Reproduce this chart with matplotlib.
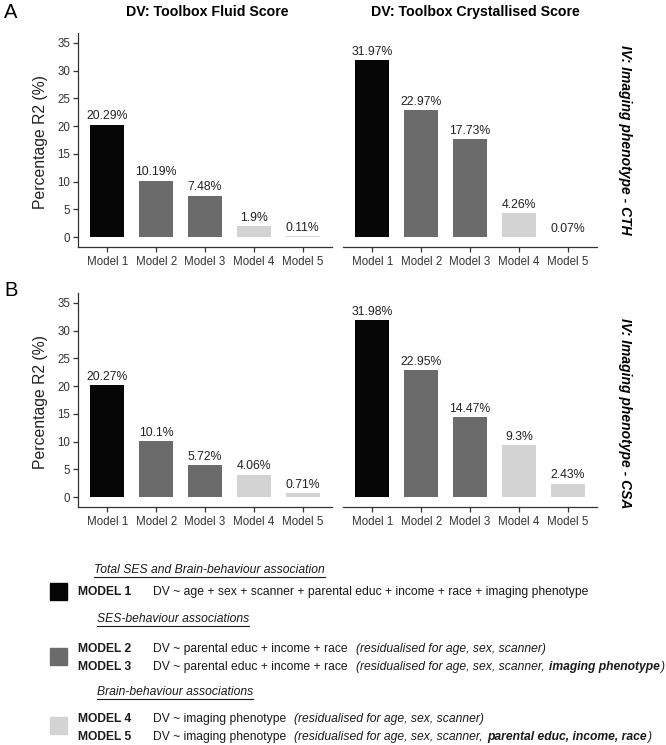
import matplotlib
matplotlib.use("Agg")
import matplotlib.pyplot as plt
from matplotlib.lines import Line2D
from matplotlib.patches import Rectangle

plt.rcParams['font.family'] = ['Liberation Sans', 'DejaVu Sans']

# ---------------- data ----------------
models = ["Model 1", "Model 2", "Model 3", "Model 4", "Model 5"]
fluid_cth = [20.29, 10.19, 7.48, 1.9, 0.11]
cryst_cth = [31.97, 22.97, 17.73, 4.26, 0.07]
fluid_csa = [20.27, 10.1, 5.72, 4.06, 0.71]
cryst_csa = [31.98, 22.95, 14.47, 9.3, 2.43]
value_labels_fluid_cth = ["20.29%", "10.19%", "7.48%", "1.9%", "0.11%"]
value_labels_cryst_cth = ["31.97%", "22.97%", "17.73%", "4.26%", "0.07%"]
value_labels_fluid_csa = ["20.27%", "10.1%", "5.72%", "4.06%", "0.71%"]
value_labels_cryst_csa = ["31.98%", "22.95%", "14.47%", "9.3%", "2.43%"]
col_titles = ["DV: Toolbox Fluid Score", "DV: Toolbox Crystallised Score"]
row_titles = ["IV: Imaging phenotype - CTH", "IV: Imaging phenotype - CSA"]
panel_letters = ["A", "B"]
y_ticks = [0, 5, 10, 15, 20, 25, 30, 35]
y_label = "Percentage R2 (%)"

BLACK = "#060606"
DARK = "#6b6b6b"
LIGHT = "#d3d3d3"
bar_colors = [BLACK, DARK, DARK, LIGHT, LIGHT]
AXC = "#333333"

W, H = 666, 745
fig = plt.figure(figsize=(W / 100, H / 100), dpi=100)


def fx(x):
    return x / W


def fy(y):
    return 1 - y / H


def add_axes(left, right, top, bottom):
    return fig.add_axes([fx(left), fy(bottom), (right - left) / W, (bottom - top) / H])


panels = [
    (fluid_cth, value_labels_fluid_cth, 78, 332, 33, 247, True),
    (cryst_cth, value_labels_cryst_cth, 343, 597, 33, 247, False),
    (fluid_csa, value_labels_fluid_csa, 78, 332, 293, 507, True),
    (cryst_csa, value_labels_cryst_csa, 343, 597, 293, 507, False),
]

xs = list(range(1, len(models) + 1))
for vals, labs, l, r, t, b, show_y in panels:
    ax = add_axes(l, r, t, b)
    ax.bar(xs, vals, width=0.7, color=bar_colors, linewidth=0)
    for x, v, s in zip(xs, vals, labs):
        ax.annotate(s, (x, v), xytext=(0, 1.5), textcoords="offset points",
                    ha="center", va="bottom", fontsize=8.8, color="#222222")
    ax.set_xlim(0.4, 5.6)
    ax.set_ylim(-1.8, 36.8)
    ax.set_xticks(xs)
    ax.set_xticklabels(models, fontsize=8.3, color="#333333")
    ax.spines['top'].set_visible(False)
    ax.spines['right'].set_visible(False)
    ax.spines['bottom'].set_color(AXC)
    ax.spines['bottom'].set_linewidth(0.9)
    ax.tick_params(axis='x', length=3.5, width=0.9, color=AXC, pad=3)
    if show_y:
        ax.set_yticks(y_ticks)
        ax.set_yticklabels([str(v) for v in y_ticks], fontsize=8.3, color="#333333")
        ax.spines['left'].set_color(AXC)
        ax.spines['left'].set_linewidth(0.9)
        ax.tick_params(axis='y', length=3.5, width=0.9, color=AXC, pad=2)
    else:
        ax.spines['left'].set_visible(False)
        ax.set_yticks([])

# column titles
fig.text(fx(207), fy(12), col_titles[0], ha="center", va="center", fontsize=10.2, fontweight="bold")
fig.text(fx(475), fy(12), col_titles[1], ha="center", va="center", fontsize=10.2, fontweight="bold")

# row titles
fig.text(fx(625), fy(140), row_titles[0], ha="center", va="center", rotation=270,
         fontsize=10, fontweight="bold", fontstyle="italic")
fig.text(fx(625), fy(413), row_titles[1], ha="center", va="center", rotation=270,
         fontsize=10, fontweight="bold", fontstyle="italic")

# y labels
fig.text(fx(41), fy(142), y_label, ha="center", va="center", rotation=90, fontsize=11.3, color="#222222")
fig.text(fx(41), fy(402), y_label, ha="center", va="center", rotation=90, fontsize=11.3, color="#222222")

# panel letters
fig.text(fx(4), fy(13), panel_letters[0], ha="left", va="center", fontsize=14.5)
fig.text(fx(4), fy(290), panel_letters[1], ha="left", va="center", fontsize=14.5)

# ---------------- legend ----------------
renderer = fig.canvas.get_renderer()
LFS = 8.75


def put(x, y, s, **kw):
    t = fig.text(fx(x), fy(y), s, ha="left", va="center", fontsize=LFS, color="#1a1a1a", **kw)
    bb = t.get_window_extent(renderer=renderer)
    return bb


def heading(x, y, s):
    bb = put(x, y, s, fontstyle="italic")
    yl = bb.y0 - 1.0
    fig.add_artist(Line2D([bb.x0 / W, bb.x1 / W], [yl / H, yl / H], color="#1a1a1a", lw=0.8))


def row(y, model, pieces):
    put(78, y, model, fontweight="bold")
    x = 153
    for s, st, gap in pieces:
        x += gap
        kw = {}
        if "i" in st:
            kw["fontstyle"] = "italic"
        if "b" in st:
            kw["fontweight"] = "bold"
        bb = put(x, y, s, **kw)
        x = bb.x1


def square(top, color):
    fig.add_artist(Rectangle((fx(50), fy(top + 17)), 17 / W, 17 / H, color=color,
                             transform=fig.transFigure))


legend_headings = ["Total SES and Brain-behaviour association",
                   "SES-behaviour associations",
                   "Brain-behaviour associations"]
heading(94, 570, legend_headings[0])
square(583, BLACK)
row(592, "MODEL 1", [("DV ~ age + sex + scanner + parental educ + income + race + imaging phenotype", "", 0)])

heading(97, 619, legend_headings[1])
square(648, DARK)
row(649, "MODEL 2", [("DV ~ parental educ + income + race", "", 0),
                     ("(residualised for age, sex, scanner)", "i", 8)])
row(667, "MODEL 3", [("DV ~ parental educ + income + race", "", 0),
                     ("(residualised for age, sex, scanner,", "i", 8),
                     ("imaging phenotype", "bi", 4.5),
                     (")", "i", 0.5)])

heading(97, 692, legend_headings[2])
square(717, LIGHT)
row(719, "MODEL 4", [("DV ~ imaging phenotype", "", 0),
                     ("(residualised for age, sex, scanner)", "i", 8)])
row(737, "MODEL 5", [("DV ~ imaging phenotype", "", 0),
                     ("(residualised for age, sex, scanner,", "i", 8),
                     ("parental educ, income, race", "bi", 4.5),
                     (")", "i", 0.5)])

fig.savefig("out.png", dpi=100)
